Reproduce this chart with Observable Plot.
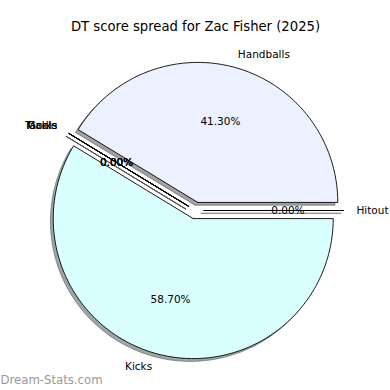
<!DOCTYPE html>
<html><head><meta charset="utf-8">
<script src="https://cdn.jsdelivr.net/npm/d3@7"></script>
<script src="https://cdn.jsdelivr.net/npm/@observablehq/plot@0.6"></script>
<style>body{margin:0;background:#fff}</style>
</head><body><div id="chart"></div>
<script>
const categories = ["Handballs", "Tackle", "Goals", "Marks", "Kicks", "Hitout"];
const values = [41.3, 0, 0, 0, 58.7, 0];
const colors = ["#ebf1ff", "#ffffff", "#ffffff", "#ffffff", "#d9ffff", "#ffffff"];
const title = "DT score spread for Zac Fisher (2025)";
const watermark = "Dream-Stats.com";

const explode = 0.06, sh = 0.02;
const total = d3.sum(values);
const rad = Math.PI / 180;
let acc = 0;
const slices = categories.map((c, i) => {
  const t1 = acc / total * 360; acc += values[i]; const t2 = acc / total * 360;
  const mid = (t1 + t2) / 2 * rad;
  const cx = explode * Math.cos(mid), cy = explode * Math.sin(mid);
  const pts = [{x: cx, y: cy}];
  const n = Math.max(1, Math.ceil(t2 - t1));
  for (let k = 0; k <= n; k++) {
    const t = (t1 + (t2 - t1) * k / n) * rad;
    pts.push({x: cx + Math.cos(t), y: cy + Math.sin(t)});
  }
  pts.push({x: cx, y: cy});
  const c3 = d3.rgb(colors[i]);
  return {category: c, value: values[i], mid, cx, cy, pts, color: colors[i],
    shadow: `rgb(${c3.r*0.3},${c3.g*0.3},${c3.b*0.3})`,
    pct: d3.format(".2f")(values[i] / total * 100) + "%"};
});

const marks = [];
slices.forEach(s => marks.push(Plot.line(s.pts, {x: d => d.x - sh, y: d => d.y - sh, fill: s.shadow, stroke: s.shadow, fillOpacity: 0.5, strokeOpacity: 0.5, strokeWidth: 1})));
slices.forEach(s => marks.push(Plot.line(s.pts, {x: "x", y: "y", fill: s.color, stroke: "black", strokeWidth: 0.9})));
const lab = d => ({lx: d.cx + 1.1 * Math.cos(d.mid), ly: d.cy + 1.1 * Math.sin(d.mid)});
marks.push(Plot.text(slices.filter(d => Math.cos(d.mid) > 0), {x: d => lab(d).lx, y: d => lab(d).ly, text: "category", textAnchor: "start", dx: -1.5, fontSize: 10.5, fill: "black"}));
marks.push(Plot.text(slices.filter(d => Math.cos(d.mid) <= 0), {x: d => lab(d).lx, y: d => lab(d).ly, text: "category", textAnchor: "end", dx: 0.5, fontSize: 10.5, fill: "black"}));
marks.push(Plot.text(slices, {x: d => d.cx + 0.6 * Math.cos(d.mid), y: d => d.cy + 0.6 * Math.sin(d.mid), text: "pct", fontSize: 10.5, fill: "black"}));
marks.push(Plot.text([title], {text: d => d, frameAnchor: "top", lineAnchor: "middle", dy: 26, fontSize: 13.2, fill: "black"}));
marks.push(Plot.text([watermark], {text: d => d, frameAnchor: "bottom-left", textAnchor: "start", lineAnchor: "middle", dx: 0, dy: -10.5, fontSize: 11.7, fill: "#999"}));

const R = 140;
const chart = Plot.plot({
  width: 390, height: 390, margin: 0,
  x: {domain: [-195 / R, 195 / R], axis: null},
  y: {domain: [-180 / R, 210 / R], axis: null},
  style: {fontFamily: "DejaVu Sans", background: "#fff"},
  marks
});
document.getElementById("chart").appendChild(chart);
</script>
</body></html>
